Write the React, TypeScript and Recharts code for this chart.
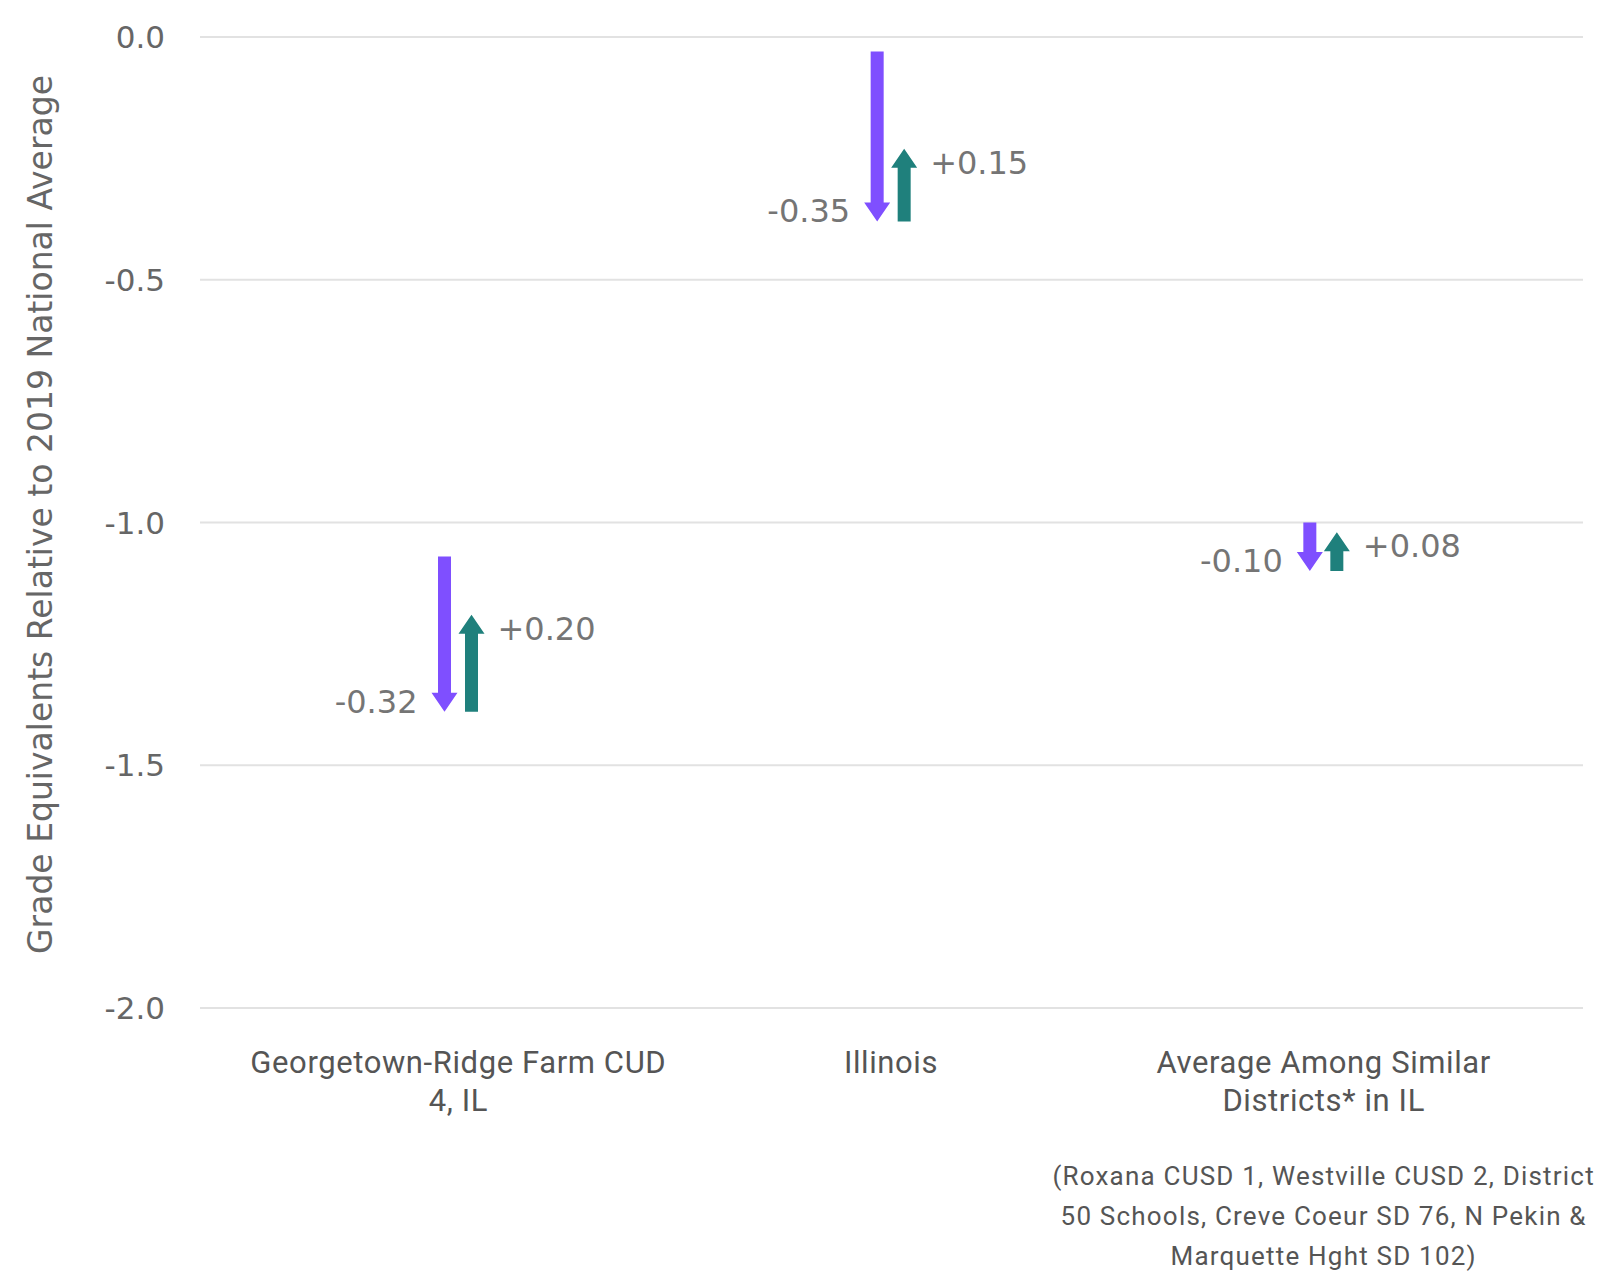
import React from 'react';
import { ComposedChart, Bar, XAxis, YAxis, CartesianGrid, Label } from 'recharts';

const categories = ['Georgetown-Ridge Farm CUD 4, IL', 'Illinois', 'Average Among Similar Districts* in IL'];
const categoryLines = [['Georgetown-Ridge Farm CUD', '4, IL'], ['Illinois'], ['Average Among Similar', 'Districts* in IL']];
const footnoteLines = ['(Roxana CUSD 1, Westville CUSD 2, District', '50 Schools, Creve Coeur SD 76, N Pekin &', 'Marquette Hght SD 102)'];
const categoryNotes = [[], [], footnoteLines];
const startValues = [-1.07, -0.03, -1.0];
const declineValues = [-0.32, -0.35, -0.1];
const recoveryValues = [0.2, 0.15, 0.08];
const yTicks = [0, -0.5, -1, -1.5, -2];
const yAxisTitle = 'Grade Equivalents Relative to 2019 National Average';

const PURPLE = '#7f4fff';
const TEAL = '#1f807c';
const VALUE_FONT = '"DejaVu Sans", sans-serif';
const CAT_FONT = 'Roboto, sans-serif';

const data = categories.map((name, i) => {
  const end = startValues[i] + declineValues[i];
  return {
    name,
    start: startValues[i],
    end,
    recovered: end + recoveryValues[i],
    decline: declineValues[i],
    recovery: recoveryValues[i],
  };
});

const fmtSigned = (v: number) => (v < 0 ? '-' : '+') + Math.abs(v).toFixed(2);

const HEAD = 19;
const HALF_HEAD = 13;
const HALF_SHAFT = 6.5;

const DownArrow = (props: any) => {
  const { x, y, width, height, payload } = props;
  if (x == null || y == null) return null;
  const cx = x + width / 2;
  const top = Math.min(y, y + height);
  const tip = Math.max(y, y + height);
  const hb = tip - HEAD;
  const pts = [
    [cx - HALF_SHAFT, top], [cx + HALF_SHAFT, top], [cx + HALF_SHAFT, hb], [cx + HALF_HEAD, hb],
    [cx, tip], [cx - HALF_HEAD, hb], [cx - HALF_SHAFT, hb],
  ].map((p) => p.join(',')).join(' ');
  return (
    <g>
      <polygon points={pts} fill={PURPLE} />
      <text x={cx - 27} y={tip + 1} textAnchor="end" fontFamily={VALUE_FONT} fontSize={32} fill="#757575">
        {fmtSigned(payload.decline)}
      </text>
    </g>
  );
};

const UpArrow = (props: any) => {
  const { x, y, width, height, payload } = props;
  if (x == null || y == null) return null;
  const cx = x + width / 2;
  const tip = Math.min(y, y + height);
  const bottom = Math.max(y, y + height);
  const hb = tip + HEAD;
  const pts = [
    [cx - HALF_SHAFT, bottom], [cx + HALF_SHAFT, bottom], [cx + HALF_SHAFT, hb], [cx + HALF_HEAD, hb],
    [cx, tip], [cx - HALF_HEAD, hb], [cx - HALF_SHAFT, hb],
  ].map((p) => p.join(',')).join(' ');
  return (
    <g>
      <polygon points={pts} fill={TEAL} />
      <text x={cx + 26} y={tip + 25} textAnchor="start" fontFamily={VALUE_FONT} fontSize={32} fill="#757575">
        {fmtSigned(payload.recovery)}
      </text>
    </g>
  );
};

const CategoryTick = (props: any) => {
  const { x, y, payload } = props;
  const i = categories.indexOf(payload.value);
  const lines = categoryLines[i] || [String(payload.value)];
  const notes = categoryNotes[i] || [];
  return (
    <g>
      <text textAnchor="middle" fontFamily={CAT_FONT} fontSize={31} letterSpacing={0.6} fill="#555555">
        {lines.map((l, k) => (
          <tspan key={k} x={x} y={y + 65 + k * 38}>{l}</tspan>
        ))}
      </text>
      {notes.length > 0 && (
        <text textAnchor="middle" fontFamily={CAT_FONT} fontSize={26} letterSpacing={1.2} fill="#555555">
          {notes.map((l, k) => (
            <tspan key={k} x={x} y={y + 177 + k * 40}>{l}</tspan>
          ))}
        </text>
      )}
    </g>
  );
};

const YTitle = (props: any) => {
  const vb = props.viewBox || { x: 0, y: 37, width: 200, height: 971 };
  const px = vb.x + 52;
  const py = vb.y + vb.height / 2 - 8;
  return (
    <text x={px} y={py} transform={`rotate(-90 ${px} ${py})`} textAnchor="middle" fontFamily={VALUE_FONT} fontSize={33} fill="#666666">
      {yAxisTitle}
    </text>
  );
};

export default function App() {
  return (
    <div style={{ position: 'absolute', left: 0, top: 0, background: '#fff' }}>
      <ComposedChart width={1603} height={1272} data={data} margin={{ top: 37, right: 20, bottom: 0, left: 0 }} barGap={14}>
        <CartesianGrid horizontal vertical={false} stroke="#e2e2e2" strokeWidth={2} />
        <XAxis
          dataKey="name"
          type="category"
          height={264}
          axisLine={false}
          tickLine={false}
          tickSize={0}
          tickMargin={0}
          interval={0}
          padding={{ left: 42, right: 43 }}
          tick={<CategoryTick />}
        />
        <YAxis
          type="number"
          domain={[-2, 0]}
          ticks={yTicks}
          width={200}
          axisLine={false}
          tickLine={false}
          tickSize={0}
          tickMargin={35}
          tickFormatter={(v: number) => (Math.abs(v) < 1e-9 ? '0.0' : v.toFixed(1))}
          tick={{ fontFamily: VALUE_FONT, fontSize: 31, fill: '#666666' }}
        >
          <Label content={<YTitle />} />
        </YAxis>
        <Bar dataKey={(d: any) => [d.start, d.end]} name="Decline" barSize={13} fill={PURPLE} shape={DownArrow} isAnimationActive={false} />
        <Bar dataKey={(d: any) => [d.end, d.recovered]} name="Recovery" barSize={13} fill={TEAL} shape={UpArrow} isAnimationActive={false} />
      </ComposedChart>
    </div>
  );
}
